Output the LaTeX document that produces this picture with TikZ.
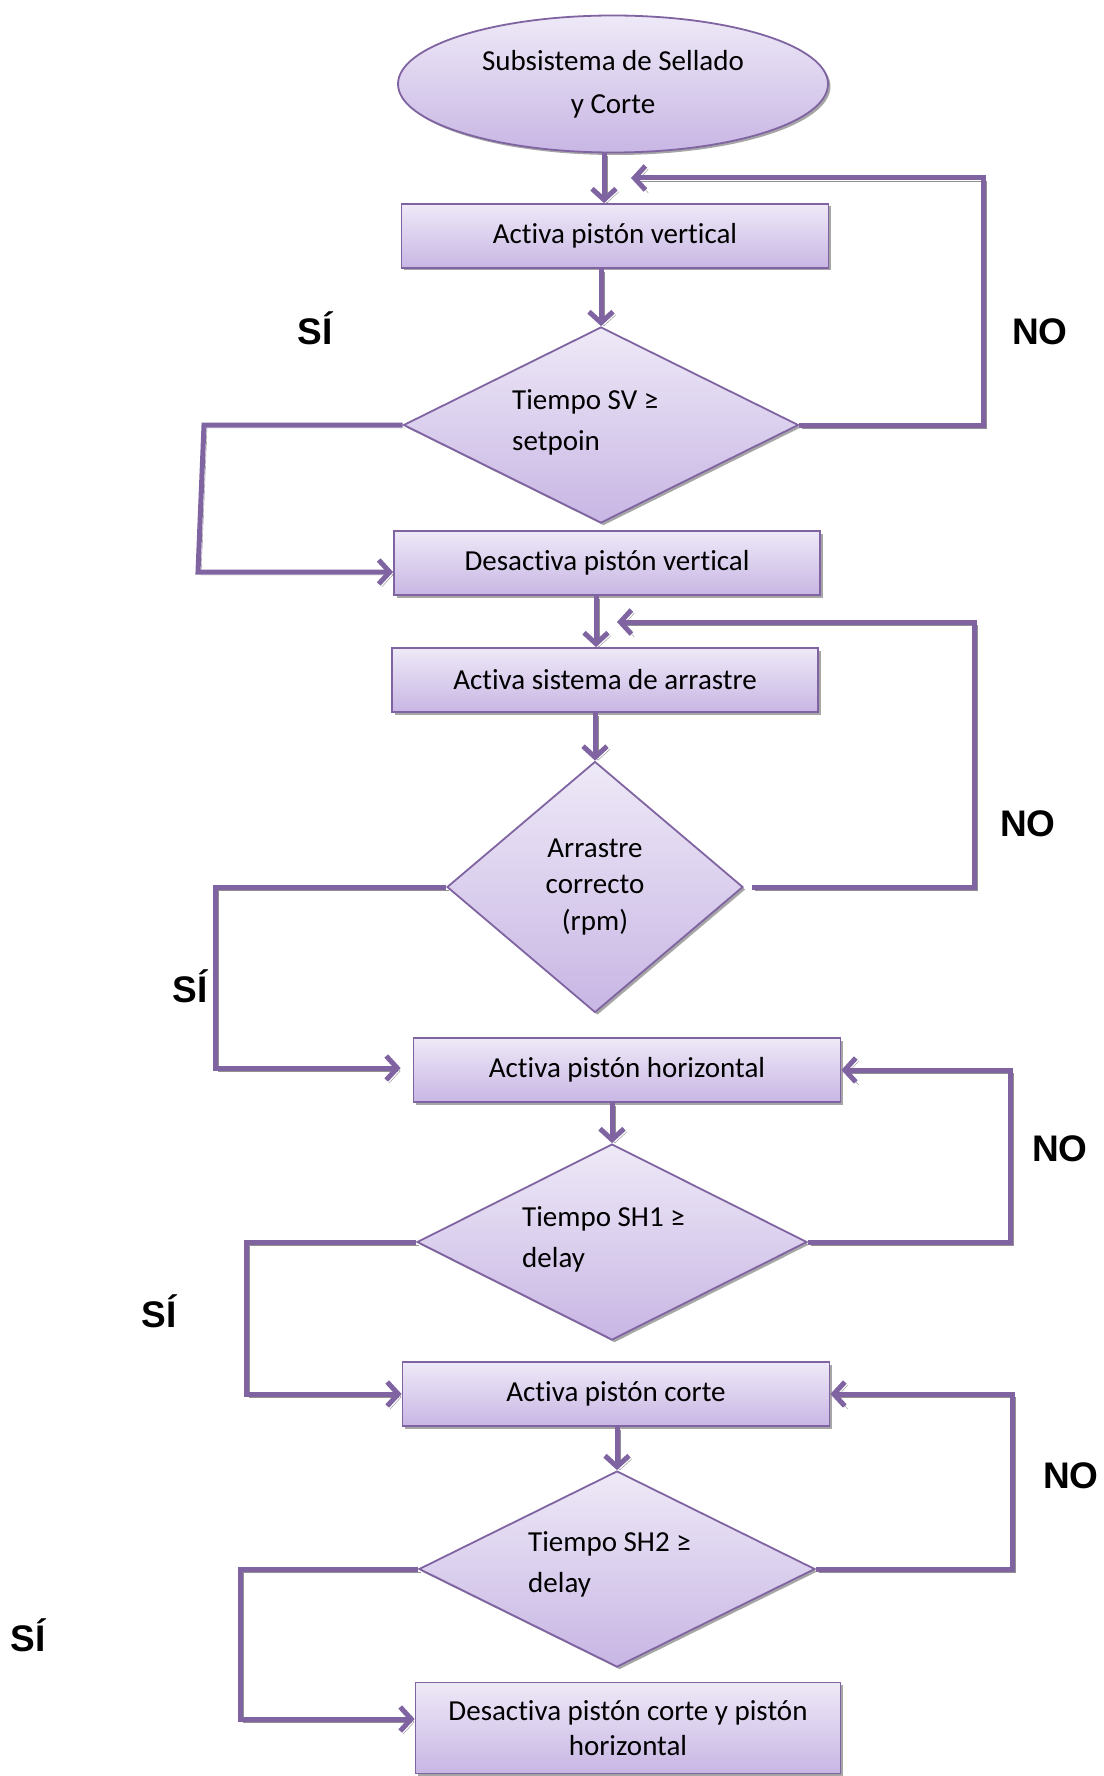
\documentclass[tikz,border=0pt]{standalone}
\usepackage{fontspec}
\setmainfont{Carlito}[Ligatures=NoCommon]
\newfontfamily\labfont{Liberation Sans}
\usetikzlibrary{shapes.geometric,arrows.meta,shadows}
\definecolor{purp}{RGB}{128,100,162}
\definecolor{ftop}{RGB}{238,233,247}
\definecolor{fbot}{RGB}{200,182,228}
\definecolor{shgray}{RGB}{145,145,145}
\begin{document}
\begin{tikzpicture}[x=1pt,y=-1pt,
 base/.style={draw=purp, line width=1.8pt, top color=ftop, bottom color=fbot, inner sep=0pt,
   font=\fontsize{29}{41}\selectfont, align=center,
   drop shadow={shadow xshift=2.5pt, shadow yshift=-2.5pt, fill=black, opacity=0.35}},
 stepbox/.style={base, rectangle, minimum width=427pt, minimum height=64pt},
 decision/.style={base, diamond},
 conn/.style={draw=purp, line width=5pt, -{Straight Barb[length=11pt,width=24pt]},
   preaction={draw=shgray, transform canvas={shift={(3,3)}}}},
 lbl/.style={font=\labfont\bfseries\fontsize{37}{40}\selectfont, inner sep=0pt},
 dtext/.style={font=\fontsize{29}{41}\selectfont, align=left, anchor=west, inner sep=0pt}]
\fill[white] (0,0) rectangle (1103,1776);
\useasboundingbox (0,0) rectangle (1103,1776);

\node[base, ellipse, minimum width=430pt, minimum height=137pt, font=\fontsize{29}{43}\selectfont] (e) at (613,84) {Subsistema de Sellado\\y Corte};
\node[stepbox] (b1) at (615,236) {Activa pistón vertical};
\node[decision, minimum width=395pt, minimum height=196pt] (d1) at (601,425) {};
\node[dtext] (t1) at (512,422) {Tiempo SV ≥\\setpoin};
\node[stepbox, minimum width=426pt] (b2) at (607,563) {Desactiva pistón vertical};
\node[stepbox, minimum width=426pt] (b3) at (605,680) {Activa sistema de arrastre};
\node[decision, minimum width=296pt, minimum height=251pt, font=\fontsize{29}{36.5}\selectfont] (d2) at (595,887) {Arrastre\\correcto\\(rpm)};
\node[stepbox] (b4) at (627,1070) {Activa pistón horizontal};
\node[decision, minimum width=390pt, minimum height=196pt] (d3) at (612,1242) {};
\node[dtext] (t3) at (522,1239) {Tiempo SH1 ≥\\delay};
\node[stepbox] (b5) at (616,1394) {Activa pistón corte};
\node[decision, minimum width=396pt, minimum height=196pt] (d4) at (617,1569) {};
\node[dtext] (t4) at (528,1564) {Tiempo SH2 ≥\\delay};
\node[stepbox, minimum width=425pt, minimum height=91pt, font=\fontsize{29}{35}\selectfont] (b6) at (628,1728) {Desactiva pistón corte y pistón\\horizontal};

\coordinate (a0) at (604,0);
\coordinate (a2) at (596,0);
\coordinate (n1c) at (983,178);
\coordinate (n1t) at (631,178);
\coordinate (s1a) at (204,425);
\coordinate (s1b) at (198,572);
\coordinate (n2c) at (974,622);
\coordinate (n2t) at (617,622);
\coordinate (s2c) at (215,1068);
\coordinate (n3c) at (1010,1070);
\coordinate (s3c) at (246,1394);
\coordinate (n4c) at (1012,1394);
\coordinate (s4c) at (240,1719);

\draw[conn] (e.south -| a0) -- (b1.north -| a0);
\draw[conn] (d1.north |- b1.south) -- (d1.north);
\draw[conn] (d1.east) -| (n1c) -- (n1t);
\draw[conn] (d1.west) -- (s1a) -- (s1b) -- (b2.west |- s1b);
\draw[conn] (b2.south -| a2) -- (b3.north -| a2);
\draw[conn] (d2.north |- b3.south) -- (d2.north);
\draw[conn, shorten <=8pt] (d2.east) -| (n2c) -- (n2t);
\draw[conn, shorten >=12pt] (d2.west) -| (s2c) -- (b4.west |- s2c);
\draw[conn] (d3.north |- b4.south) -- (d3.north);
\draw[conn] (d3.east) -| (n3c) -- (b4.east);
\draw[conn] (d3.west) -| (s3c) -- (b5.west);
\draw[conn] (d4.north |- b5.south) -- (d4.north);
\draw[conn] (d4.east) -| (n4c) -- (b5.east);
\draw[conn] (d4.west) -| (s4c) -- (b6.west |- s4c);

\node[lbl] (si1) at (315,328) {SÍ};
\node[lbl] (si2) at (190,986) {SÍ};
\node[lbl] (si3) at (159,1311) {SÍ};
\node[lbl] (si4) at (28,1635) {SÍ};
\node[lbl] (no1) at (1040,332) {NO};
\node[lbl] (no2) at (1028,824) {NO};
\node[lbl] (no3) at (1060,1149) {NO};
\node[lbl] (no4) at (1071,1476) {NO};
\end{tikzpicture}
\end{document}
